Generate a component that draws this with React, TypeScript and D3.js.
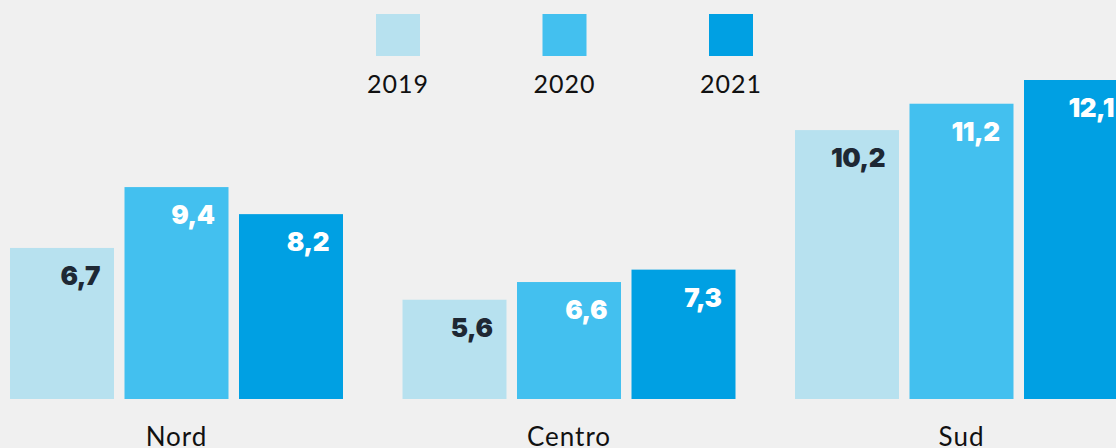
import React from "react";
import * as d3 from "d3";

const categories = ["Nord", "Centro", "Sud"];
const years = ["2019", "2020", "2021"];
const values2019 = [6.7, 5.6, 10.2];
const values2020 = [9.4, 6.6, 11.2];
const values2021 = [8.2, 7.3, 12.1];
// each panel in the reference uses its own vertical scale
const groupDomainMax = [14.15, 18.0, 12.1];
const colors = ["#b7e1ef", "#43c0ef", "#00a0e3"];
const labelColors = ["#1e2834", "#ffffff", "#ffffff"];

const W = 1116;
const H = 448;

export default function App() {
  const series = [values2019, values2020, values2021];
  const x0 = d3.scaleBand<string>().domain(categories).range([10, 1128]).paddingInner(0.1516).paddingOuter(0);
  const x1 = d3.scaleBand<string>().domain(years).range([0, x0.bandwidth()]).paddingInner(0.0917).paddingOuter(0);
  const baseY = 399;
  const topY = 80;
  const yScales = groupDomainMax.map((m) => d3.scaleLinear().domain([0, m]).range([baseY, topY]));
  const fmt = (v: number) => d3.format(".1f")(v).replace(".", ",");
  const legendX = d3.scalePoint<string>().domain(years).range([398, 731]);

  return (
    <div style={{ position: "fixed", left: 0, top: 0, width: W, height: H, overflow: "hidden", background: "#f0f0f0" }}>
      <svg width={W} height={H} style={{ display: "block" }}>
        <rect x={0} y={0} width={W} height={H} fill="#f0f0f0" />
        {years.map((yr, i) => (
          <g key={yr}>
            <rect x={(legendX(yr) as number) - 22} y={14} width={44} height={42} fill={colors[i]} />
            <text x={legendX(yr)} y={93} textAnchor="middle" fontFamily="Lato, 'Noto Sans', sans-serif" fontSize={25} letterSpacing={1} fill="#111">
              {yr}
            </text>
          </g>
        ))}
        {categories.map((cat, ci) => {
          const gx = x0(cat) as number;
          const ys = yScales[ci];
          return (
            <g key={cat}>
              {years.map((yr, si) => {
                const v = series[si][ci];
                const bx = gx + (x1(yr) as number);
                const by = ys(v);
                return (
                  <g key={yr}>
                    <rect x={bx} y={by} width={x1.bandwidth()} height={baseY - by} fill={colors[si]} />
                    <text
                      x={bx + x1.bandwidth() - 14}
                      y={by + 37}
                      textAnchor="end"
                      fontFamily="Inter, Lato, sans-serif"
                      fontWeight={900}
                      fontSize={26}
                      letterSpacing={-0.5}
                      fill={labelColors[si]}
                    >
                      {fmt(v)}
                    </text>
                  </g>
                );
              })}
              <text x={gx + x0.bandwidth() / 2} y={446} textAnchor="middle" fontFamily="Lato, 'Noto Sans', sans-serif" fontSize={26} letterSpacing={1} fill="#111">
                {cat}
              </text>
            </g>
          );
        })}
      </svg>
    </div>
  );
}
